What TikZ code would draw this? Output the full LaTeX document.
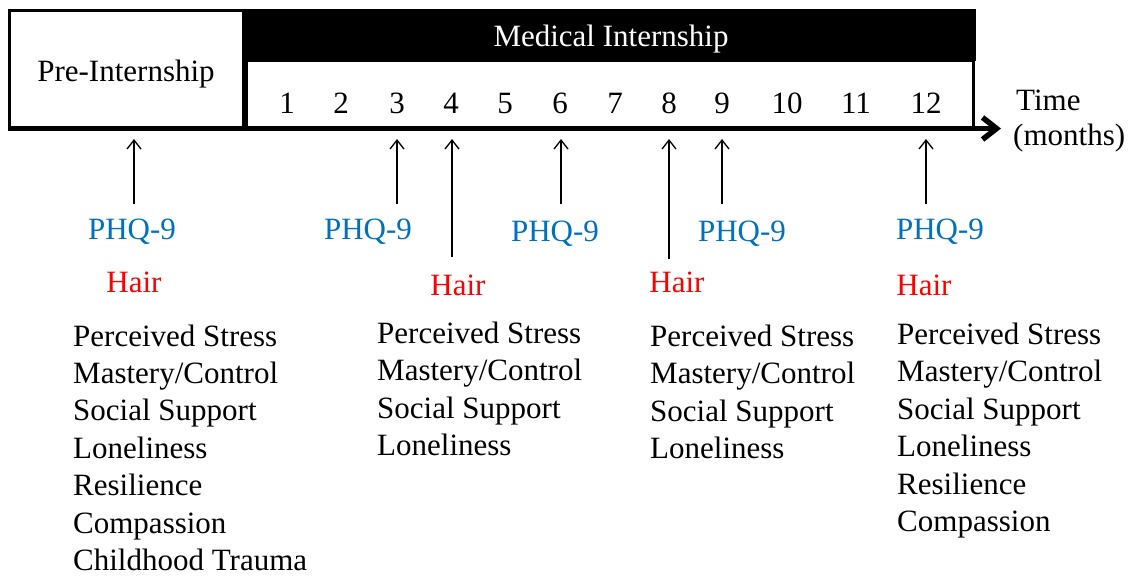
\documentclass[tikz,border=0pt]{standalone}
\usepackage{fontspec}
\setmainfont{Liberation Serif}
\usetikzlibrary{arrows.meta}
\definecolor{phqblue}{HTML}{0070C0}
\definecolor{hairred}{HTML}{FF0000}
\begin{document}
\begin{tikzpicture}[x=1pt,y=-1pt,
  lbl/.style={inner sep=0pt,font=\fontsize{31}{37.5}\selectfont},
  phq/.style={lbl,anchor=base,text=phqblue},
  hair/.style={lbl,anchor=base,text=hairred},
  item/.style={lbl,anchor=base west},
  month/.style={lbl,anchor=base},
  pointer/.style={line width=1.3pt,-{Straight Barb[length=9pt,width=14pt]}},
  axis/.style={line width=5.5pt,-{Straight Barb[length=14pt,width=22pt]}}]
\useasboundingbox (0,0) rectangle (1132,577);

% header boxes
\draw[line width=3pt] (9.5,11) rectangle (243.5,128);
\fill[black] (245,9) rectangle (976,61);
\draw[line width=3pt] (246.5,61) rectangle (973.5,128);
\node[lbl,anchor=base] (pre) at (126,82) {Pre-Internship};
\node[lbl,anchor=base,text=white] (med) at (611,47) {Medical Internship};

% time axis
\coordinate (ax0) at (8,128.5);
\coordinate (ax1) at (1001,128.5);
\draw[axis] (ax0) -- (ax1);
\node[lbl,anchor=base west] (time) at (1016,111) {Time};
\node[lbl,anchor=base west] (months) at (1013,146) {(months)};

% month numbers
\foreach \m/\x in {1/287,2/341,3/397,4/451,5/505,6/560,7/615,8/669,9/722,10/787,11/856,12/926}
  \node[month] (m\m) at (\x,114) {\m};

% assessment pointers
\foreach \i/\x/\yb in {a/134/204,b/397/204,c/452/257,d/561/204,e/669/259,f/722/204,g/926/204}{
  \coordinate (top\i) at (\x,139);
  \coordinate (bot\i) at (\x,\yb);
  \draw[pointer] (bot\i) -- (top\i);
}

% PHQ-9 labels
\node[phq] (p1) at (132,240) {PHQ-9};
\node[phq] (p2) at (368,240) {PHQ-9};
\node[phq] (p3) at (555,242) {PHQ-9};
\node[phq] (p4) at (742,242) {PHQ-9};
\node[phq] (p5) at (940,240) {PHQ-9};

% hair samples
\node[hair] (h1) at (134,293) {Hair};
\node[hair] (h2) at (458,295) {Hair};
\node[hair] (h3) at (677,293) {Hair};
\node[hair] (h4) at (924,295) {Hair};

% questionnaires
\foreach \t [count=\k from 0] in {Perceived Stress,Mastery/Control,Social Support,Loneliness,Resilience,Compassion,Childhood Trauma}
  \node[item] (qa\k) at (73,346+37.4*\k) {\t};
\foreach \t [count=\k from 0] in {Perceived Stress,Mastery/Control,Social Support,Loneliness}
  \node[item] (qb\k) at (377,343+37.5*\k) {\t};
\foreach \t [count=\k from 0] in {Perceived Stress,Mastery/Control,Social Support,Loneliness}
  \node[item] (qc\k) at (650,346+37.5*\k) {\t};
\foreach \t [count=\k from 0] in {Perceived Stress,Mastery/Control,Social Support,Loneliness,Resilience,Compassion}
  \node[item] (qd\k) at (897,344+37.5*\k) {\t};
\end{tikzpicture}
\end{document}
